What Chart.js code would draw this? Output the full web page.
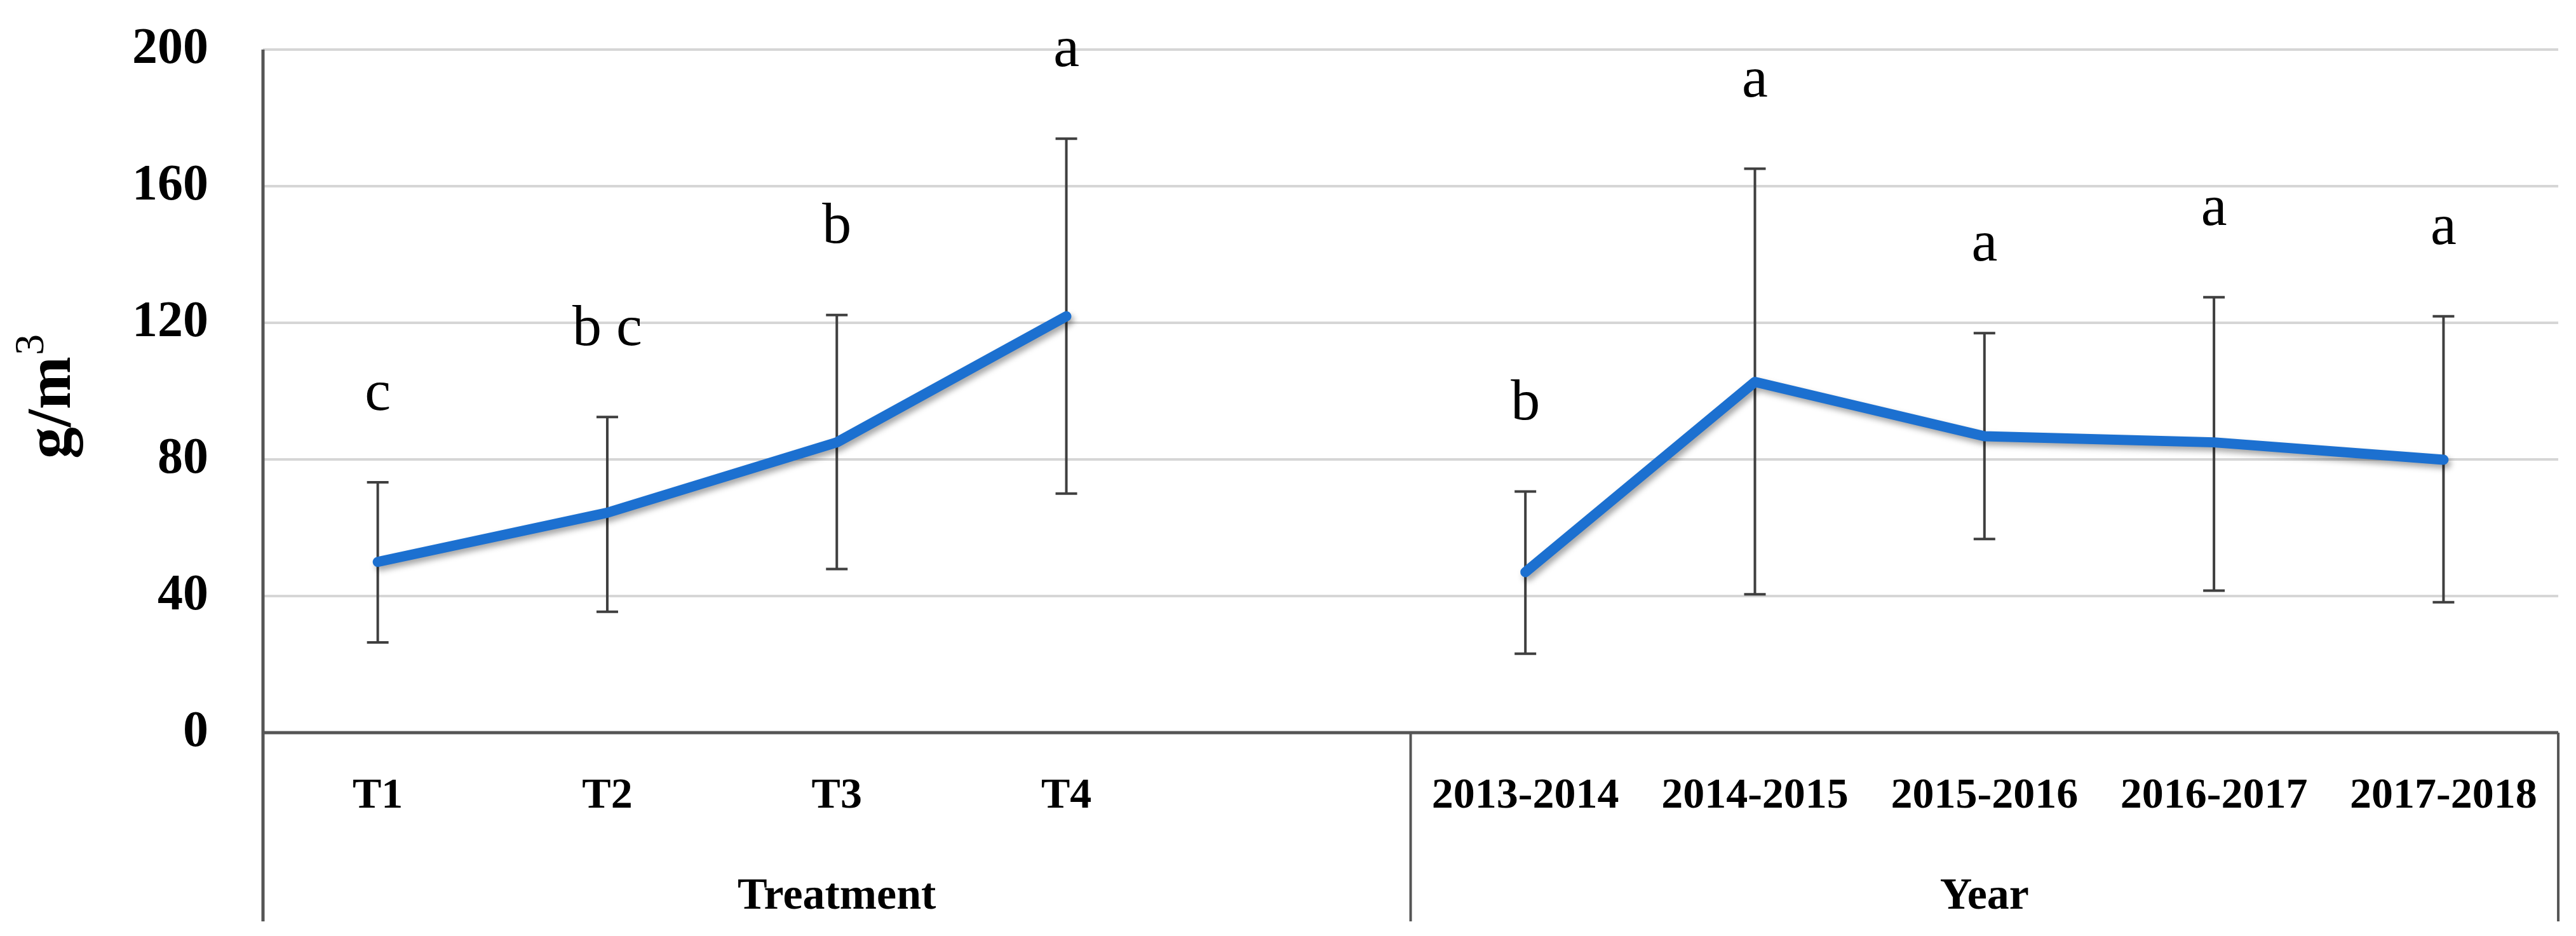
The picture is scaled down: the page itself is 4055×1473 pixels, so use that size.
<!DOCTYPE html>
<html>
<head>
<meta charset="utf-8">
<script src="https://cdn.jsdelivr.net/npm/chart.js@4.4.0/dist/chart.umd.min.js"></script>
<style>
  html, body { margin: 0; padding: 0; background: #fff; }
  #wrap { width: 4055px; height: 1473px; }
</style>
</head>
<body>
<div id="wrap"><canvas id="grafico" width="4055" height="1473"></canvas></div>
<script>
const categorias = ["T1", "T2", "T3", "T4", "", "2013-2014", "2014-2015", "2015-2016", "2016-2017", "2017-2018"];
const grupos = ["Treatment", "Year"];
const tamanhoGrupos = [5, 5];
const medias = [50, 64.4, 85, 121.9, null, 47, 102.7, 86.8, 85, 79.9];
const erroSup = [73.3, 92.4, 122.3, 173.9, null, 70.6, 165.1, 117, 127.5, 121.9];
const erroInf = [26.4, 35.4, 47.9, 70, null, 23.1, 40.5, 56.7, 41.6, 38.2];
const letras = ["c", "b c", "b", "a", "", "b", "a", "a", "a", "a"];
const ticksY = [0, 40, 80, 120, 160, 200];

const SERIF = "'Liberation Serif', 'Times New Roman', serif";
const CINZA = "#555555";

// barras de erro, letras, divisórias e títulos dos eixos
const extras = {
  id: "extras",
  beforeDatasetsDraw(chart) {
    const ctx = chart.ctx;
    const x = chart.scales.x;
    const y = chart.scales.y;

    ctx.save();
    ctx.strokeStyle = "#3f3f3f";
    ctx.lineWidth = 4;
    erroSup.forEach((sup, i) => {
      if (sup == null) return;
      const px = x.getPixelForValue(i);
      const top = y.getPixelForValue(sup);
      const bot = y.getPixelForValue(erroInf[i]);
      ctx.beginPath();
      ctx.moveTo(px, top);
      ctx.lineTo(px, bot);
      ctx.moveTo(px - 17, top);
      ctx.lineTo(px + 17, top);
      ctx.moveTo(px - 17, bot);
      ctx.lineTo(px + 17, bot);
      ctx.stroke();
    });
    ctx.restore();

    // sombra da linha
    ctx.save();
    ctx.shadowColor = "rgba(0,0,0,0.35)";
    ctx.shadowBlur = 10;
    ctx.shadowOffsetX = 4;
    ctx.shadowOffsetY = 6;
  },
  afterDatasetsDraw(chart) {
    const ctx = chart.ctx;
    ctx.restore();

    const x = chart.scales.x;
    const y = chart.scales.y;
    const area = chart.chartArea;
    const baseY = y.getPixelForValue(0);
    const fundo = 1450;

    ctx.save();
    ctx.fillStyle = "#000";
    ctx.font = "92px " + SERIF;
    ctx.textAlign = "center";
    ctx.textBaseline = "middle";
    letras.forEach((l, i) => {
      if (!l) return;
      ctx.fillText(l, x.getPixelForValue(i), y.getPixelForValue(erroSup[i]) - 138);
    });

    // eixos
    ctx.strokeStyle = CINZA;
    ctx.lineWidth = 5;
    ctx.beginPath();
    ctx.moveTo(area.left, area.top);
    ctx.lineTo(area.left, fundo);
    ctx.moveTo(area.left, baseY);
    ctx.lineTo(area.right, baseY);
    ctx.stroke();

    // divisórias entre grupos
    ctx.lineWidth = 4;
    const passo = (area.right - area.left) / categorias.length;
    let inicio = 0;
    ctx.font = "bold 70px " + SERIF;
    grupos.forEach((g, k) => {
      const fim = inicio + tamanhoGrupos[k];
      const xIni = area.left + inicio * passo;
      const xFim = area.left + fim * passo;
      ctx.beginPath();
      ctx.moveTo(xFim, baseY);
      ctx.lineTo(xFim, fundo);
      ctx.stroke();
      ctx.fillText(g, (xIni + xFim) / 2, 1412);
      inicio = fim;
    });

    // título do eixo y: g/m3
    ctx.translate(110, 622);
    ctx.rotate(-Math.PI / 2);
    ctx.textAlign = "left";
    ctx.textBaseline = "alphabetic";
    ctx.font = "bold 100px " + SERIF;
    const w = ctx.measureText("g/m").width;
    ctx.fillText("g/m", -100, 0);
    ctx.font = "66px " + SERIF;
    ctx.fillText("3", -100 + w + 2, -42);
    ctx.restore();
  }
};

const ctx = document.getElementById("grafico").getContext("2d");

new Chart(ctx, {
  type: "line",
  data: {
    labels: categorias,
    datasets: [{
      data: medias,
      borderColor: "#1c70d0",
      borderWidth: 16,
      borderCapStyle: "round",
      borderJoinStyle: "round",
      pointRadius: 0,
      tension: 0,
      spanGaps: false
    }]
  },
  options: {
    responsive: false,
    animation: false,
    devicePixelRatio: 1,
    layout: { padding: { top: 78, right: 25, left: 0, bottom: 0 } },
    plugins: {
      legend: { display: false },
      tooltip: { enabled: false }
    },
    scales: {
      x: {
        offset: true,
        grid: { display: false, drawTicks: false },
        border: { display: false },
        ticks: {
          autoSkip: false,
          maxRotation: 0,
          padding: 60,
          color: "#000",
          font: { family: SERIF, size: 68, weight: "bold" }
        },
        afterFit(s) { s.height = 320; }
      },
      y: {
        min: 0,
        max: 200,
        afterBuildTicks(s) { s.ticks = ticksY.map(v => ({ value: v })); },
        grid: {
          drawTicks: false,
          lineWidth: 4,
          color: c => (c.tick && c.tick.value === 0 ? "rgba(0,0,0,0)" : "#d6d6d6")
        },
        border: { display: false },
        ticks: {
          padding: 86,
          color: "#000",
          font: { family: SERIF, size: 80, weight: "bold" }
        },
        afterFit(s) {
          s.width = 414;
          s.paddingTop = 0;
          s.paddingBottom = 0;
        }
      }
    }
  },
  plugins: [extras]
});
</script>
</body>
</html>
